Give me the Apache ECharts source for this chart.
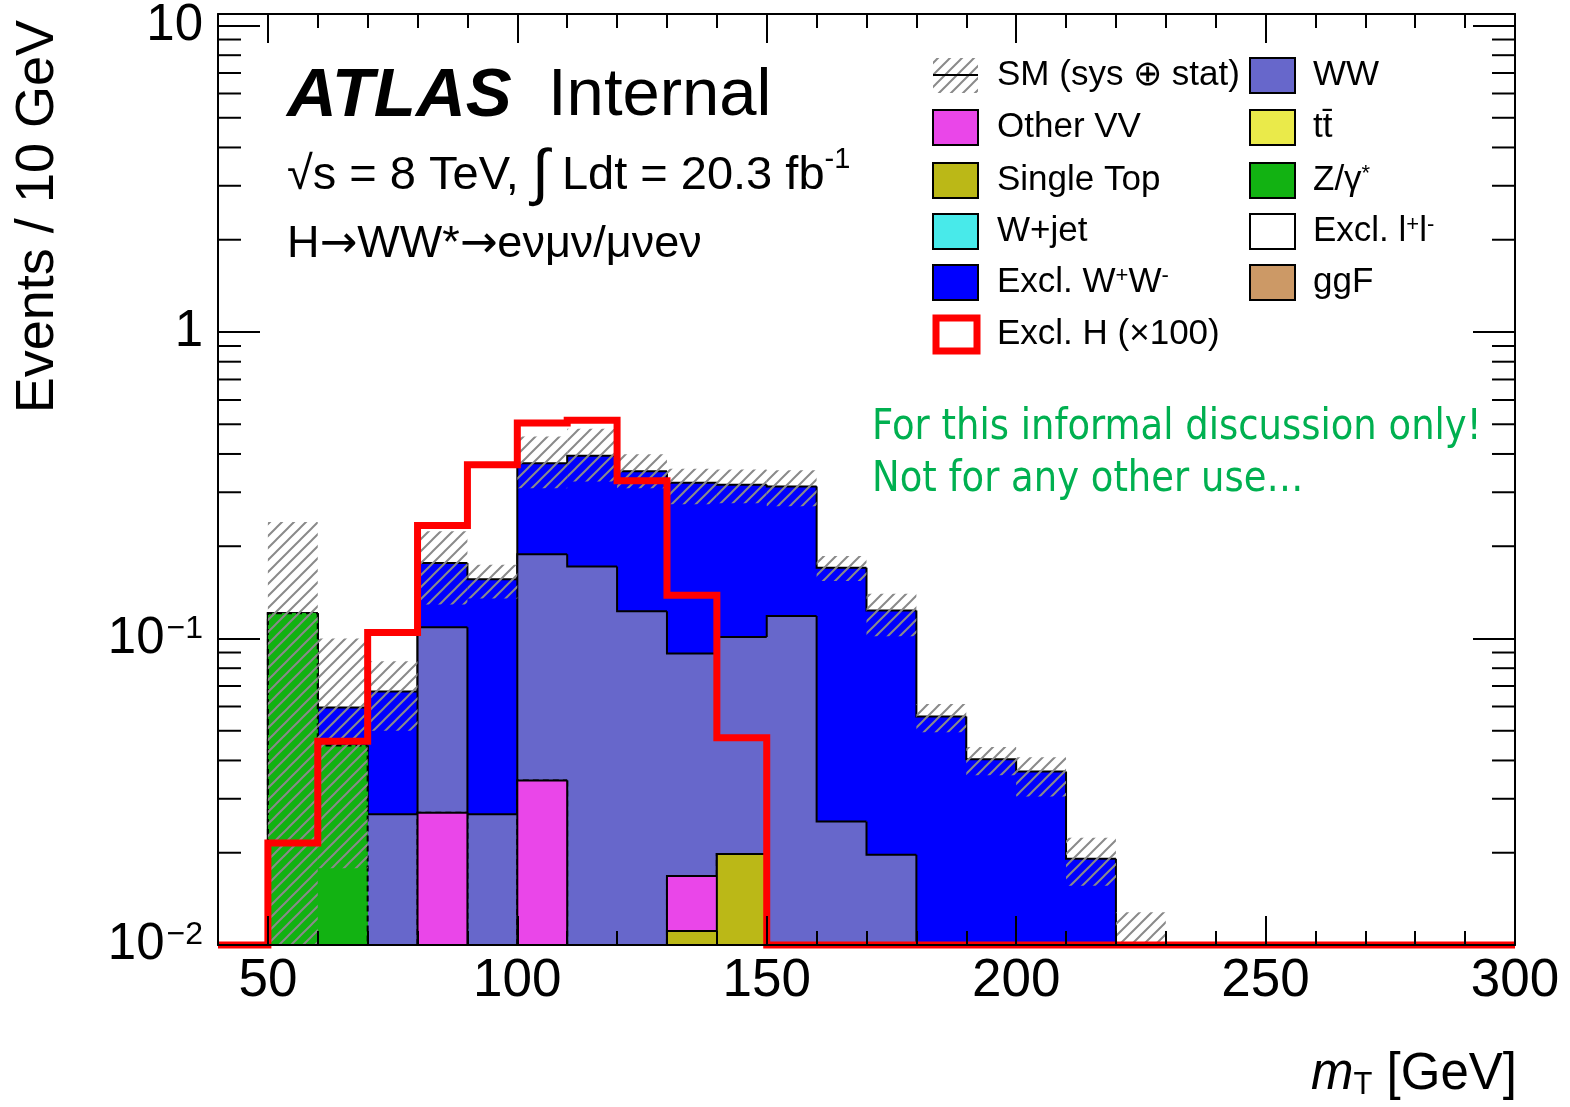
<!DOCTYPE html>
<html>
<head>
<meta charset="utf-8">
<script src="https://cdn.jsdelivr.net/npm/echarts@6/dist/echarts.min.js"></script>
<style>
html, body { margin: 0; padding: 0; background: #fff; }
#chart { width: 1570px; height: 1107px; }
</style>
</head>
<body>
<div id="chart"></div>
<script>
// m_T bins, 10 GeV wide (lower edges)
var binLo = [40,50,60,70,80,90,100,110,120,130,140,150,160,170,180,190,200,210,220,230,240,250,260,270,280,290];
var binW = 10;

// background components, events / bin
var singleTop = [0,0,0,0,0,0,0,0,0,0.0111,0.0198,0,0,0,0,0,0,0,0,0,0,0,0,0,0,0];
var otherVV   = [0,0,0,0,0.027,0,0.0344,0,0,0.0057,0,0,0,0,0,0,0,0,0,0,0,0,0,0,0,0];
var wJet      = [0,0,0,0,0,0,0,0,0,0,0,0,0,0,0,0,0,0,0,0,0,0,0,0,0,0];
var ttbar     = [0,0,0,0,0,0,0,0,0,0,0,0,0,0,0,0,0,0,0,0,0,0,0,0,0,0];
var zGamma    = [0,0.121,0.0448,0,0,0,0,0,0,0,0,0,0,0,0,0,0,0,0,0,0,0,0,0,0,0];
var exclLL    = [0,0,0,0,0,0,0,0,0,0,0,0,0,0,0,0,0,0,0,0,0,0,0,0,0,0];
var ggF       = [0,0,0,0,0,0,0,0,0,0,0,0,0,0,0,0,0,0,0,0,0,0,0,0,0,0];
var ww        = [0,0,0,0.0267,0.0818,0.0267,0.154,0.1716,0.1227,0.0726,0.0814,0.1185,0.0253,0.0197,0,0,0,0,0,0,0,0,0,0,0,0];
var exclWW    = [0,0,0.0148,0.0405,0.0674,0.1294,0.1846,0.2229,0.2288,0.2328,0.2163,0.1949,0.145,0.1037,0.0557,0.0404,0.0368,0.0191,0.007,0,0,0,0,0,0,0];

// SM uncertainty band (sys + stat)
var smLow  = [0,0.005,0.0178,0.05,0.129,0.135,0.309,0.325,0.309,0.274,0.276,0.27,0.154,0.1017,0.0494,0.0358,0.0305,0.0156,0.004,0,0,0,0,0,0,0];
var smHigh = [0,0.24,0.1,0.0843,0.224,0.174,0.456,0.483,0.399,0.358,0.356,0.354,0.186,0.14,0.0611,0.0443,0.041,0.0224,0.0128,0,0,0,0,0,0,0];

// exclusive Higgs signal, scaled x100
var signalX100 = [0,0.0215,0.0462,0.1046,0.2335,0.369,0.505,0.515,0.327,0.1385,0.0474,0,0,0,0,0,0,0,0,0,0,0,0,0,0,0];

// axis ticks
var xMajor = [50,100,150,200,250,300];
var xMinor = [40,60,70,80,90,110,120,130,140,160,170,180,190,210,220,230,240,260,270,280,290];
var yMinor = [0.02,0.03,0.04,0.05,0.06,0.07,0.08,0.09,0.2,0.3,0.4,0.5,0.6,0.7,0.8,0.9,2,3,4,5,6,7,8,9];

var xMin = 40, xMax = 300, yMin = 0.01, yMax = 10.9;
var FONT = '"Liberation Sans", Helvetica, Arial, sans-serif';

var stack = [
    {vals: singleTop, color: '#bbb817'},
    {vals: otherVV, color: '#ea46e9'},
    {vals: wJet, color: '#48eaea'},
    {vals: ttbar, color: '#eaea4a'},
    {vals: zGamma, color: '#12b212', dashed: true},
    {vals: exclLL, color: '#ffffff'},
    {vals: ggF, color: '#cc9966'},
    {vals: ww, color: '#6767cb'},
    {vals: exclWW, color: '#0000ff'}
];

// hatch pattern for the SM band
var hatch = document.createElement('canvas');
hatch.width = 12; hatch.height = 12;
var hc = hatch.getContext('2d');
hc.strokeStyle = '#8a8a8a';
hc.lineWidth = 2;
hc.beginPath();
hc.moveTo(0, 12); hc.lineTo(12, 0);
hc.moveTo(-6, 6); hc.lineTo(6, -6);
hc.moveTo(6, 18); hc.lineTo(18, 6);
hc.stroke();

function clampY(v) { return v > yMin ? v : yMin; }

function fillSeries(vals, color) {
    return {
        type: 'custom', silent: true,
        data: binLo.map(function (lo, i) { return [lo, vals[i]]; }),
        renderItem: function (params, api) {
            var lo = api.value(0), v = api.value(1);
            if (!(v > yMin)) return;
            var p0 = api.coord([lo, v]), p1 = api.coord([lo + binW, yMin]);
            var x0 = Math.round(p0[0]), x1 = Math.round(p1[0]);
            var y0 = Math.round(p0[1]), y1 = Math.round(p1[1]);
            return {type: 'rect', shape: {x: x0, y: y0, width: x1 - x0, height: y1 - y0}, style: {fill: color}};
        }
    };
}

function outlineSeries(vals, dashed) {
    var last = binLo.length - 1;
    return {
        type: 'custom', silent: true,
        data: binLo.map(function (lo, i) { return [lo, vals[i], i > 0 ? vals[i - 1] : 0]; }),
        renderItem: function (params, api) {
            var lo = api.value(0), v = api.value(1), prev = api.value(2);
            if (!(v > yMin) && !(prev > yMin)) return;
            var pts = [api.coord([lo, clampY(prev)]), api.coord([lo, clampY(v)]), api.coord([lo + binW, clampY(v)])];
            if (params.dataIndex === last) pts.push(api.coord([lo + binW, yMin]));
            return {type: 'polyline', shape: {points: pts},
                style: {stroke: '#000', lineWidth: 2, fill: null, lineDash: dashed ? [6, 4] : null}};
        }
    };
}

var series = [];
// cumulative sums, drawn from the top of the stack downwards
var cum = [];
var run = binLo.map(function () { return 0; });
stack.forEach(function (s) {
    run = run.map(function (r, i) { return r + s.vals[i]; });
    cum.push(run.slice());
});
for (var k = stack.length - 1; k >= 0; k--) {
    var nonZero = stack[k].vals.some(function (v) { return v > 0; });
    if (!nonZero) continue;
    series.push(fillSeries(cum[k], stack[k].color));
    series.push(outlineSeries(cum[k], stack[k].dashed));
}

// SM uncertainty band
series.push({
    type: 'custom', silent: true,
    data: binLo.map(function (lo, i) { return [lo, smLow[i], smHigh[i]]; }),
    renderItem: function (params, api) {
        var lo = api.value(0), a = api.value(1), b = api.value(2);
        if (!(b > yMin)) return;
        var p0 = api.coord([lo, b]), p1 = api.coord([lo + binW, clampY(a)]);
        return {type: 'rect', shape: {x: p0[0], y: p0[1], width: p1[0] - p0[0], height: p1[1] - p0[1]},
            style: {fill: {image: hatch, repeat: 'repeat'}}};
    }
});

// signal step line
series.push({
    type: 'custom', silent: true,
    data: [[xMin, yMin]],
    renderItem: function (params, api) {
        var pts = [];
        binLo.forEach(function (lo, i) {
            var v = clampY(signalX100[i]);
            pts.push(api.coord([lo, v]), api.coord([lo + binW, v]));
        });
        return {type: 'polyline', shape: {points: pts},
            style: {stroke: '#ff0000', lineWidth: 7, fill: null, lineJoin: 'miter'}};
    }
});

// y minor ticks on both sides
series.push({
    type: 'custom', silent: true, z: 6,
    data: yMinor.map(function (v) { return [xMin, v]; }),
    renderItem: function (params, api) {
        var v = api.value(1);
        var l = api.coord([xMin, v]), r = api.coord([xMax, v]);
        return {type: 'group', children: [
            {type: 'line', shape: {x1: l[0], y1: l[1], x2: l[0] + 23, y2: l[1]}, style: {stroke: '#000', lineWidth: 2}},
            {type: 'line', shape: {x1: r[0], y1: r[1], x2: r[0] - 23, y2: r[1]}, style: {stroke: '#000', lineWidth: 2}}
        ]};
    }
});

function xAx(pos, ticks, len, showLine, showLabel) {
    return {
        type: 'value', position: pos, min: xMin, max: xMax, z: 5,
        axisLine: {show: showLine, onZero: false, lineStyle: {color: '#000', width: 2}},
        axisTick: {show: true, inside: true, length: len, customValues: ticks, lineStyle: {color: '#000', width: 2}},
        axisLabel: {show: showLabel, customValues: ticks, margin: 10, color: '#000', fontSize: 53, fontFamily: FONT},
        splitLine: {show: false}
    };
}

function yFmt(v) {
    var e = Math.round(Math.log(v) / Math.LN10);
    if (Math.abs(Math.log(v) / Math.LN10 - e) > 1e-6) return '';
    if (e >= 0) return String(Math.pow(10, e));
    return '10{sup|\u2212' + (-e) + '}';
}

function yAx(pos, showLabel) {
    return {
        type: 'log', position: pos, min: yMin, max: yMax, logBase: 10, z: 5,
        axisLine: {show: true, onZero: false, lineStyle: {color: '#000', width: 2}},
        axisTick: {show: true, inside: true, length: 42, lineStyle: {color: '#000', width: 2}},
        axisLabel: {show: showLabel, formatter: yFmt, margin: 15, color: '#000', fontSize: 51, fontFamily: FONT,
            showMaxLabel: false,
            rich: {sup: {fontSize: 32, fontFamily: FONT, color: '#000', verticalAlign: 'top', padding: [0, 0, 0, 2]}}},
        splitLine: {show: false}
    };
}

// legend + annotations
var supRich = {sup: {fontSize: 22, fontFamily: FONT, fill: '#000', verticalAlign: 'top'}};
function legText(x, y, text) {
    return {type: 'text', x: x, y: y, z: 20,
        style: {text: text, fontSize: 35, fontFamily: FONT, fill: '#000', verticalAlign: 'middle', rich: supRich}};
}
function legBox(x, y, color) {
    return {type: 'rect', z: 20, shape: {x: x, y: y - 17, width: 45, height: 35},
        style: {fill: color, stroke: '#000', lineWidth: 2}};
}
var rows = [75, 127, 180, 231, 282, 334];
var lx = 933, rx = 1250;

var graphics = [
    {type: 'text', x: 287, y: 97, z: 20, style: {text: 'ATLAS', fontSize: 69, fontStyle: 'italic', fontWeight: 'bold', fontFamily: FONT, fill: '#000', verticalAlign: 'middle'}},
    {type: 'text', x: 548, y: 97, z: 20, style: {text: 'Internal', fontSize: 67, fontFamily: FONT, fill: '#000', verticalAlign: 'middle'}},
    {type: 'text', x: 287, y: 176, z: 20, style: {
        text: '\u221As = 8 TeV, {int|\u222B} Ldt = 20.3 fb{sup|-1}', fontSize: 47, fontFamily: FONT, fill: '#000', verticalAlign: 'middle',
        rich: {int: {fontSize: 62, fontFamily: FONT, fill: '#000'}, sup: {fontSize: 29, fontFamily: FONT, fill: '#000', verticalAlign: 'top'}}}},
    {type: 'text', x: 287, y: 245, z: 20, style: {
        text: 'H{arr|\u2192}WW*{arr|\u2192}e\u03BD\u03BC\u03BD/\u03BC\u03BDe\u03BD', fontSize: 45, fontFamily: FONT, fill: '#000', verticalAlign: 'middle',
        rich: {arr: {fontSize: 45, fontFamily: '"DejaVu Sans", sans-serif', fill: '#000'}}}},

    // SM band legend
    {type: 'rect', z: 20, shape: {x: lx, y: rows[0] - 17, width: 45, height: 35}, style: {fill: {image: hatch, repeat: 'repeat'}}},
    {type: 'line', z: 21, shape: {x1: lx, y1: rows[0], x2: lx + 45, y2: rows[0]}, style: {stroke: '#000', lineWidth: 2}},
    legText(997, rows[0], 'SM (sys \u2295 stat)'),
    legBox(lx, rows[1], '#ea46e9'), legText(997, rows[1], 'Other VV'),
    legBox(lx, rows[2], '#bbb817'), legText(997, rows[2], 'Single Top'),
    legBox(lx, rows[3], '#48eaea'), legText(997, rows[3], 'W+jet'),
    legBox(lx, rows[4], '#0000ff'), legText(997, rows[4], 'Excl. W{sup|+}W{sup|-}'),
    {type: 'rect', z: 20, shape: {x: lx + 3, y: rows[5] - 16, width: 41, height: 33}, style: {fill: '#fff', stroke: '#ff0000', lineWidth: 7}},
    legText(997, rows[5], 'Excl. H (\u00D7100)'),
    legBox(rx, rows[0], '#6767cb'), legText(1313, rows[0], 'WW'),
    legBox(rx, rows[1], '#eaea4a'), legText(1313, rows[1], 'tt\u0304'),
    legBox(rx, rows[2], '#12b212'), legText(1313, rows[2], 'Z/\u03B3{sup|*}'),
    legBox(rx, rows[3], '#ffffff'), legText(1313, rows[3], 'Excl. l{sup|+}l{sup|-}'),
    legBox(rx, rows[4], '#cc9966'), legText(1313, rows[4], 'ggF'),

    {type: 'text', x: 872, y: 428, z: 20, scaleX: 0.88, style: {text: 'For this informal discussion only!', fontSize: 42, fontFamily: '"DejaVu Sans", sans-serif', fill: '#00b050', verticalAlign: 'middle'}},
    {type: 'text', x: 872, y: 480, z: 20, scaleX: 0.88, style: {text: 'Not for any other use\u2026', fontSize: 42, fontFamily: '"DejaVu Sans", sans-serif', fill: '#00b050', verticalAlign: 'middle'}},

    // axis titles
    {type: 'text', x: 1517, y: 1075, z: 20, style: {
        text: '{it|m}{sub|T} [GeV]', fontSize: 51, fontFamily: FONT, fill: '#000', align: 'right', verticalAlign: 'middle',
        rich: {it: {fontSize: 51, fontStyle: 'italic', fontFamily: FONT, fill: '#000'}, sub: {fontSize: 31, fontFamily: FONT, fill: '#000', verticalAlign: 'bottom'}}}},
    {type: 'text', x: 38, y: 20, z: 20, rotation: Math.PI / 2, style: {text: 'Events / 10 GeV', fontSize: 54, fontFamily: FONT, fill: '#000', align: 'right', verticalAlign: 'middle'}}
];

var option = {
    backgroundColor: '#ffffff',
    animation: false,
    grid: {left: 218, right: 55, top: 14, bottom: 162, containLabel: false},
    xAxis: [
        xAx('bottom', xMajor, 29, true, true),
        xAx('top', xMajor, 29, true, false),
        xAx('bottom', xMinor, 14, false, false),
        xAx('top', xMinor, 14, false, false)
    ],
    yAxis: [yAx('left', true), yAx('right', false)],
    series: series,
    graphic: graphics
};

var chart = echarts.init(document.getElementById('chart'));
chart.setOption(option);
</script>
</body>
</html>
